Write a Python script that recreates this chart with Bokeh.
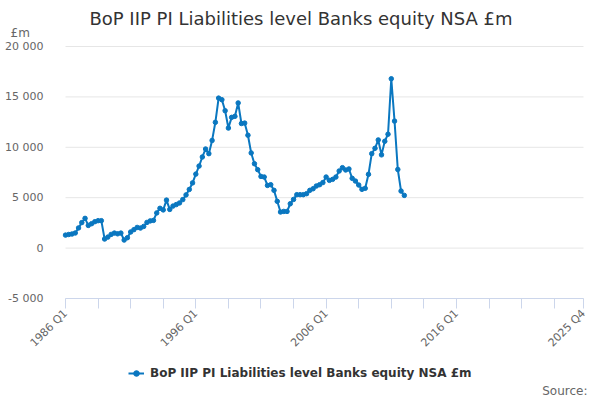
from math import pi
from bokeh.plotting import figure
from bokeh.models import Range1d, FixedTicker, Label, Legend, LegendItem
from bokeh.embed import file_html
from bokeh.resources import INLINE

title_text = "BoP IIP PI Liabilities level Banks equity NSA £m"
series_name = "BoP IIP PI Liabilities level Banks equity NSA £m"
unit_label = "£m"
source_text = "Source:"

start_year = 1986
end_year = 2025
quarters = [f"{y} Q{q}" for y in range(start_year, end_year + 1) for q in range(1, 5)]

values = [
    1290, 1350, 1400, 1500, 2000, 2530, 2950, 2250, 2420, 2620,
    2720, 2720, 900, 1090, 1360, 1490, 1420, 1490, 800, 1030,
    1600, 1830, 2050, 1990, 2150, 2550, 2700, 2750, 3490, 3950,
    3790, 4760, 3840, 4170, 4320, 4480, 4810, 5280, 5820, 6470,
    7340, 8140, 9040, 9830, 9370, 10680, 12480, 14880, 14720, 13630,
    11910, 12970, 13070, 14400, 12360, 12400, 11200, 9440, 8370, 7780,
    7110, 7050, 6220, 6290, 5730, 4640, 3580, 3640, 3640, 4400,
    4830, 5300, 5300, 5300, 5400, 5730, 5890, 6160, 6290, 6500,
    7050, 6720, 6820, 7050, 7650, 7980, 7750, 7850, 6920, 6650,
    6260, 5830, 5930, 7320, 9370, 9900, 10730, 9250, 10600, 11300,
    16800, 12600, 7800, 5660, 5230,
]

y_ticks = [-5000, 0, 5000, 10000, 15000, 20000]
y_tick_labels = ["-5 000", "0", "5 000", "10 000", "15 000", "20 000"]
x_label_quarters = ["1986 Q1", "1996 Q1", "2006 Q1", "2016 Q1", "2025 Q4"]

BLUE = "#0a77c0"
GRID = "#e6e6e6"
AXIS = "#ccd6eb"
FONT = "DejaVu Sans"

# layout (pixels)
W, H = 600, 400
PLOT_LEFT, PLOT_RIGHT = 65, 583
GRID_TOP, PLOT_BOTTOM = 46, 298

n = len(quarters)
xs = list(range(len(values)))
x_ticks = list(range(0, n, 10)) + [n - 1]
x_overrides = {t: (quarters[t] if quarters[t] in x_label_quarters else "") for t in x_ticks}

# the frame covers the whole canvas; axes are pinned to the plot area's edges
x_per_px = (n - 1) / (PLOT_RIGHT - PLOT_LEFT)
x_lo = 0 - PLOT_LEFT * x_per_px
x_hi = (n - 1) + (W - PLOT_RIGHT) * x_per_px
y_lo_t, y_hi_t = y_ticks[0], y_ticks[-1]
y_per_px = (y_hi_t - y_lo_t) / (PLOT_BOTTOM - GRID_TOP)
y_lo = y_lo_t - (H - PLOT_BOTTOM) * y_per_px
y_hi = y_hi_t + GRID_TOP * y_per_px

p = figure(width=W, height=H, x_range=Range1d(x_lo, x_hi), y_range=Range1d(y_lo, y_hi),
           toolbar_location=None, output_backend="svg",
           min_border_left=0, min_border_right=0, min_border_top=0, min_border_bottom=0)
p.outline_line_color = None
p.background_fill_color = "white"
p.border_fill_color = "white"
p.xgrid.visible = False
p.ygrid.visible = False

# horizontal grid lines at the y ticks, across the plot area
p.segment(x0=[0] * len(y_ticks), x1=[n - 1] * len(y_ticks), y0=y_ticks, y1=y_ticks,
          line_color=GRID, line_width=1)

r_line = p.line(xs, values, line_width=2, color=BLUE)
r_pts = p.scatter(xs, values, size=4.5, color=BLUE)

yax = p.yaxis[0]
yax.fixed_location = 0
yax.ticker = FixedTicker(ticks=y_ticks)
yax.major_label_overrides = dict(zip(y_ticks, y_tick_labels))
yax.axis_line_color = None
yax.major_tick_line_color = None
yax.minor_tick_line_color = None
yax.major_label_standoff = 16
yax.major_label_text_font = FONT
yax.major_label_text_font_size = "11px"
yax.major_label_text_color = "#666666"

xax = p.xaxis[0]
xax.fixed_location = y_lo_t
xax.bounds = (0, n - 1)
xax.ticker = FixedTicker(ticks=x_ticks)
xax.major_label_overrides = x_overrides
xax.major_label_orientation = pi / 4
xax.axis_line_color = AXIS
xax.major_tick_line_color = AXIS
xax.major_tick_out = 10
xax.major_tick_in = 0
xax.minor_tick_line_color = None
xax.major_label_standoff = 3
xax.major_label_text_font = FONT
xax.major_label_text_font_size = "11px"
xax.major_label_text_color = "#666666"

p.add_layout(Label(x=300.5, y=H - 18, x_units="screen", y_units="screen",
                   text=title_text, text_align="center", text_baseline="middle",
                   text_font=FONT, text_font_size="18px", text_color="#333333"))
p.add_layout(Label(x=10, y=H - 32, x_units="screen", y_units="screen",
                   text=unit_label, text_align="left", text_baseline="middle",
                   text_font=FONT, text_font_size="12px", text_color="#666666"))
p.add_layout(Label(x=587, y=H - 390, x_units="screen", y_units="screen",
                   text=source_text, text_align="right", text_baseline="middle",
                   text_font=FONT, text_font_size="12px", text_color="#666666"))

legend = Legend(items=[LegendItem(label=series_name, renderers=[r_line, r_pts])],
                location=(128, H - 380), orientation="horizontal",
                padding=0, margin=0, spacing=0, glyph_width=16, glyph_height=14,
                label_height=14, label_standoff=6, border_line_color=None,
                background_fill_alpha=0, label_text_font=FONT,
                label_text_font_size="12px", label_text_font_style="bold",
                label_text_color="#333333")
p.add_layout(legend)

open("out.html", "w").write(file_html(p, INLINE))
